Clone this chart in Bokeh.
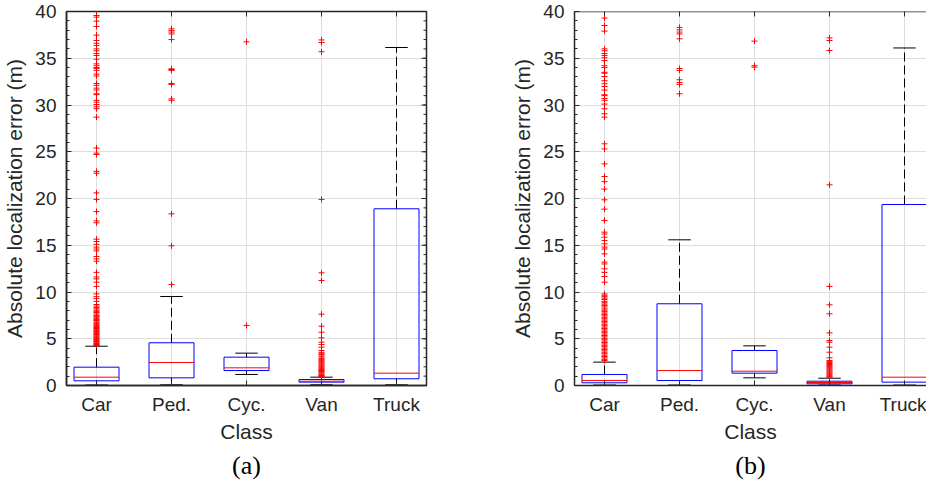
import math
from bokeh.plotting import figure
from bokeh.models import FixedTicker, SingleIntervalTicker, Range1d, Title, Span
from bokeh.layouts import row
from bokeh.embed import file_html
from bokeh.resources import INLINE

classes = ["Car", "Ped.", "Cyc.", "Van", "Truck"]

# ---- panel (a) ----
a_q1 = [0.50, 0.82, 1.60, 0.36, 0.72]
a_med = [0.89, 2.46, 1.89, 0.46, 1.32]
a_q3 = [1.96, 4.57, 3.03, 0.64, 18.90]
a_lo = [0.05, 0.07, 1.18, 0.07, 0.07]
a_hi = [4.20, 9.52, 3.46, 0.89, 36.15]
a_out_car = [39.57, 39.4, 38.97, 38.4, 37.47, 36.9, 36.6, 36.36, 36.0, 35.8, 35.5, 35.3, 34.9,
             34.4, 34.2, 34.0, 33.9, 33.7, 33.3, 33.1, 32.3, 32.1, 31.8, 31.6, 31.2, 31.1, 30.5,
             30.3, 30.05, 29.8, 29.6, 28.7, 25.4, 24.85, 24.7, 22.9, 22.7, 20.6, 19.9, 18.6, 17.6,
             17.4, 15.65, 15.4, 15.1, 14.8, 14.6, 14.4, 13.8, 13.55, 13.3, 12.1, 11.6, 11.4, 11.05,
             10.6, 9.8, 9.5, 9.3, 9.0, 8.66, 8.5, 8.35, 8.2, 8.05, 7.9, 7.8, 7.65, 7.5, 7.4, 7.3,
             7.15, 7.05, 6.95, 6.8, 6.7, 6.6, 6.5, 6.4, 6.3, 6.2, 6.1, 6.0, 5.9, 5.8, 5.75, 5.65,
             5.55, 5.45, 5.4, 5.3, 5.2, 5.15, 5.05, 4.95, 4.9, 4.8, 4.7, 4.65, 4.55, 4.5, 4.4,
             4.35, 4.28]
a_out_ped = [10.8, 14.94, 18.36, 30.5, 30.66, 32.2, 32.3, 33.7, 33.8, 33.87, 37.0, 37.6, 37.8,
             37.97, 38.15]
a_out_cyc = [6.42, 36.76]
a_out_van = [36.96, 36.68, 35.7, 19.9, 12.05, 11.23, 7.63, 6.34, 5.7, 5.1, 4.63, 4.39, 4.1,
             3.74, 3.55, 3.4, 3.3, 3.15, 3.05, 2.9, 2.8, 2.7, 2.6, 2.5, 2.4, 2.3, 2.2, 2.1, 2.0,
             1.9, 1.8, 1.7, 1.6, 1.5, 1.45, 1.35, 1.25, 1.15, 1.07, 0.98, 0.92]
a_out_truck = []

# ---- panel (b) ----
b_q1 = [0.29, 0.53, 1.32, 0.18, 0.36]
b_med = [0.53, 1.60, 1.53, 0.32, 0.89]
b_q3 = [1.18, 8.74, 3.74, 0.46, 19.36]
b_lo = [0.05, 0.05, 0.82, 0.05, 0.05]
b_hi = [2.50, 15.58, 4.24, 0.78, 36.10]
b_out_car = [39.3, 38.5, 37.9, 36.0, 35.8, 35.5, 35.3, 35.05, 34.76, 34.2, 34.0, 33.5, 33.4,
             33.05, 32.6, 32.27, 31.98, 31.6, 31.1, 31.0, 30.7, 30.5, 30.1, 29.6, 29.06, 28.7,
             25.85, 25.3, 23.7, 22.35, 21.8, 21.0, 19.86, 18.86, 17.65, 16.4, 16.2, 15.86, 15.5,
             15.15, 14.8, 14.6, 14.08, 13.2, 13.0, 12.48, 12.1, 11.66, 11.05, 9.8, 9.65, 9.5,
             9.35, 9.2, 9.0, 8.85, 8.7, 8.55, 8.4, 8.2, 8.05, 7.9, 7.75, 7.6, 7.45, 7.3, 7.15,
             7.0, 6.85, 6.7, 6.55, 6.4, 6.25, 6.1, 5.95, 5.8, 5.65, 5.5, 5.35, 5.2, 5.05, 4.9,
             4.75, 4.6, 4.45, 4.3, 4.15, 4.0, 3.85, 3.7, 3.55, 3.4, 3.25, 3.1, 2.95, 2.8, 2.67]
b_out_ped = [31.2, 32.2, 32.4, 32.7, 33.7, 33.9, 37.08, 37.6, 37.8, 38.04, 38.3]
b_out_cyc = [36.83, 34.2, 34.05]
b_out_van = [37.18, 36.9, 35.83, 21.46, 10.59, 8.63, 7.67, 5.63, 4.81, 4.63, 4.1, 3.56, 2.96,
             2.67, 2.55, 2.45, 2.35, 2.25, 2.15, 2.05, 1.95, 1.85, 1.75, 1.65, 1.55, 1.45, 1.35,
             1.25, 1.15, 1.05, 0.95, 0.89]
b_out_truck = []

y_ticks = [0, 5, 10, 15, 20, 25, 30, 35, 40]
y_minor = list(range(0, 41))

FONT = "Liberation Sans"
AX = "#262626"
GRID = "#dedede"
BOXW = 0.3
CAPW = 0.15
Y_MAX = 40


def panel(q1, med, q3, lo, hi, outs, caption, x_end, min_left, frame_w, min_right, box_right, cap_offset):
    p = figure(frame_width=frame_w, frame_height=374, x_range=Range1d(0.6, x_end),
               y_range=Range1d(0, Y_MAX), output_backend="svg", toolbar_location=None,
               min_border_left=min_left, min_border_right=min_right, min_border_top=11,
               min_border_bottom=101, background_fill_color="white",
               border_fill_color="white",
               outline_line_color=AX if box_right else None, outline_line_width=1.5)
    xs = [i + 1 for i in range(len(classes))]
    xt = FixedTicker(ticks=xs)
    yt = SingleIntervalTicker(interval=5, num_minor_ticks=5)

    xa = p.xaxis[0]
    xa.ticker = xt
    xa.major_label_overrides = {x: c for x, c in zip(xs, classes)}
    ya = p.yaxis[0]
    ya.ticker = yt
    for ax in (xa, ya):
        ax.axis_line_color = AX
        ax.axis_line_width = 1.5
        ax.major_tick_line_color = AX
        ax.major_tick_in = 5
        ax.major_tick_out = 0
        ax.minor_tick_in = 3
        ax.minor_tick_out = 0
        ax.major_label_text_font = FONT
        ax.major_label_text_color = AX
        ax.major_label_text_font_size = "19px"
        ax.axis_label_text_font = FONT
        ax.axis_label_text_font_size = "21px"
        ax.axis_label_text_font_style = "normal"
        ax.axis_label_text_color = AX
    xa.minor_tick_line_color = None
    ya.minor_tick_line_color = AX
    xa.major_label_standoff = 8
    xa.axis_label = "Class"
    xa.axis_label_standoff = 2
    ya.major_label_standoff = 10
    ya.axis_label = "Absolute localization error (m)"
    ya.axis_label_standoff = 6

    p.xgrid.ticker = xt
    p.ygrid.ticker = FixedTicker(ticks=y_ticks)
    p.xgrid.grid_line_color = GRID
    p.ygrid.grid_line_color = GRID

    # top border (for the clipped panel) and inward ticks on top / right
    if not box_right:
        p.add_layout(Span(location=Y_MAX, dimension="width", line_color=AX, line_width=1.5))
    p.scatter(x=xs, y=[Y_MAX] * len(xs), marker="dash", angle=math.pi / 2, size=10,
              line_color=AX, line_width=1)
    if box_right:
        p.scatter(x=[x_end] * len(y_minor), y=y_minor, marker="dash", size=6,
                  line_color=AX, line_width=1)
        p.scatter(x=[x_end] * len(y_ticks), y=y_ticks, marker="dash", size=10,
                  line_color=AX, line_width=1)

    # whiskers
    p.segment(x0=xs, y0=q3, x1=xs, y1=hi, line_color="black", line_dash="9 4", line_width=1)
    p.segment(x0=xs, y0=lo, x1=xs, y1=q1, line_color="black", line_dash="9 4", line_width=1)
    p.segment(x0=[x - CAPW for x in xs], y0=hi, x1=[x + CAPW for x in xs], y1=hi,
              line_color="black", line_width=1)
    p.segment(x0=[x - CAPW for x in xs], y0=lo, x1=[x + CAPW for x in xs], y1=lo,
              line_color="black", line_width=1)
    # boxes
    p.quad(left=[x - BOXW for x in xs], right=[x + BOXW for x in xs], bottom=q1, top=q3,
           fill_color=None, line_color="#0000ff", line_width=1)
    p.segment(x0=[x - BOXW for x in xs], y0=med, x1=[x + BOXW for x in xs], y1=med,
              line_color="#ff0000", line_width=1)
    # outliers
    ox, oy = [], []
    for x, vals in zip(xs, outs):
        ox += [x] * len(vals)
        oy += vals
    p.scatter(x=ox, y=oy, marker="cross", size=6, line_color="#ff0000", line_width=1)

    p.add_layout(Title(text=caption, align="center", text_font="Liberation Serif",
                       text_font_size="26px", text_font_style="normal", text_color="black",
                       offset=cap_offset, standoff=6), "below")
    return p


pa = panel(a_q1, a_med, a_q3, a_lo, a_hi,
           [a_out_car, a_out_ped, a_out_cyc, a_out_van, a_out_truck],
           "(a)", 5.4, 66, 360, 34, True, -9)
pb = panel(b_q1, b_med, b_q3, b_lo, b_hi,
           [b_out_car, b_out_ped, b_out_cyc, b_out_van, b_out_truck],
           "(b)", 0.6 + 352 / 75, 114, 352, 0, False, -5)

layout = row(pa, pb)
open("out.html", "w").write(file_html(layout, INLINE))
